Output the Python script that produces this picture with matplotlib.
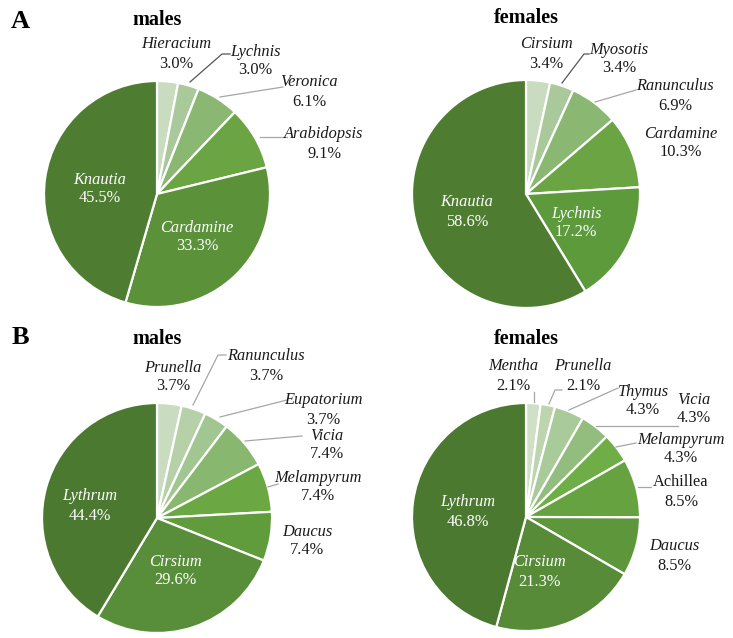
import matplotlib
matplotlib.use("Agg")
import matplotlib.pyplot as plt

# data: genus names and share of visits (%)
a_male_names = ["Hieracium", "Lychnis", "Veronica", "Arabidopsis", "Cardamine", "Knautia"]
a_male_vals = [3.0, 3.0, 6.1, 9.1, 33.3, 45.5]
a_female_names = ["Cirsium", "Myosotis", "Ranunculus", "Cardamine", "Lychnis", "Knautia"]
a_female_vals = [3.4, 3.4, 6.9, 10.3, 17.2, 58.6]
b_male_names = ["Prunella", "Ranunculus", "Eupatorium", "Vicia", "Melampyrum",
                "Daucus", "Cirsium", "Lythrum"]
b_male_vals = [3.7, 3.7, 3.7, 7.4, 7.4, 7.4, 29.6, 44.4]
b_female_names = ["Mentha", "Prunella", "Thymus", "Vicia", "Melampyrum",
                  "Achillea", "Daucus", "Cirsium", "Lythrum"]
b_female_vals = [2.1, 2.1, 4.3, 4.3, 4.3, 8.5, 8.5, 21.3, 46.8]

# styling / layout (pixel coords, y from top)
H = 638
SERIF = "Liberation Serif"
LINE = "#a6a6a6"
FS = 11.8

panels = [
    dict(names=a_male_names, vals=a_male_vals, center=(157, 194), r=113,
         colors=["#c9dcbf", "#a9c99b", "#8ab872", "#6ba443", "#5a9139", "#4e7d31"],
         title=("males", 157, 20),
         pos=[(176, 54), (255, 61), (309, 92), (324, 144), (197, 237), (100, 189)],
         lines=[None, [(190, 82), (222, 54), (230, 54)],
                [(220, 97), (283, 87)], [(260, 137), (287, 137)], None, None],
         line_cols=[None, "#555555", LINE, LINE, None, None],
         inside=[False, False, False, False, True, True]),
    dict(names=a_female_names, vals=a_female_vals, center=(526, 194), r=114,
         colors=["#c9dcbf", "#a9c99b", "#8ab872", "#6ba443", "#5c9a3b", "#4e7d31"],
         title=("females", 526, 18),
         pos=[(546, 54), (619, 59), (675, 96), (681, 143), (576, 223), (467, 212)],
         lines=[None, [(562, 83), (584, 54), (589, 54)],
                [(595, 102), (636, 90)], None, None, None],
         line_cols=[None, "#555555", LINE, None, None, None],
         inside=[False, False, False, False, True, True]),
    dict(names=b_male_names, vals=b_male_vals, center=(157, 518), r=115,
         colors=["#c9dcbf", "#b6d1a7", "#a2c691", "#88b86f", "#6ba843",
                 "#609c3c", "#588e39", "#4c7930"],
         title=("males", 157, 339),
         pos=[(173, 377), (266, 366), (323, 410), (327, 445), (318, 487),
              (307, 541), (175, 571), (90, 506)],
         lines=[None, [(193, 405), (218, 355), (226, 355)],
                [(220, 417), (287, 400)], [(245, 441), (302, 436)],
                [(268, 487), (278, 484)], None, None, None],
         line_cols=[LINE] * 8,
         inside=[False] * 6 + [True, True]),
    dict(names=b_female_names, vals=b_female_vals, center=(526, 517), r=114,
         colors=["#cfe0c6", "#bcd5af", "#a9ca99", "#92bd7f", "#6fae47",
                 "#66a340", "#5d963b", "#578b38", "#4c7930"],
         title=("females", 526, 339),
         pos=[(513, 376), (583, 376), (643, 401), (694, 409), (681, 449),
              (681, 492), (674, 556), (539, 572), (468, 512)],
         lines=[[(534, 402), (534, 392)], [(549, 404), (555, 390), (562, 390)],
                [(569, 410), (618, 388)], [(596, 426), (678, 426)],
                [(616, 447), (636, 443)], [(638, 487), (651, 487)],
                None, None, None],
         line_cols=[LINE] * 9,
         inside=[False] * 7 + [True, True]),
]

fig = plt.figure(figsize=(7.33, 6.38), dpi=100)
ax = fig.add_axes([0, 0, 1, 1])

for p in panels:
    cx, cy = p["center"]
    ax.pie(p["vals"], colors=p["colors"], startangle=90, counterclock=False,
           center=(cx, H - cy), radius=p["r"], frame=True,
           wedgeprops=dict(edgecolor="white", linewidth=1.6))
    for name, v, (x, y), ln, lc, inside in zip(p["names"], p["vals"], p["pos"],
                                                p["lines"], p["line_cols"],
                                                p["inside"]):
        col = "white" if inside else "#1a1a1a"
        style = "normal" if name == "Achillea" else "italic"
        ax.text(x, H - y + 9.5, name, ha="center", va="center", fontsize=FS,
                family=SERIF, style=style, color=col)
        ax.text(x, H - y - 9.5, f"{v:.1f}%", ha="center", va="center",
                fontsize=FS, family=SERIF, color=col)
        if ln is not None:
            ax.plot([q[0] for q in ln], [H - q[1] for q in ln], color=lc,
                    linewidth=0.9)
    t, tx, ty = p["title"]
    ax.text(tx, H - ty, t, ha="center", va="center", fontsize=14.5,
            family=SERIF, weight="bold")

ax.set_xlim(0, 733)
ax.set_ylim(0, H)
ax.set_aspect("equal")
ax.axis("off")

fig.text(20 / 733, 1 - 21 / H, "A", ha="center", va="center", fontsize=19,
         family=SERIF, weight="bold")
fig.text(20 / 733, 1 - 337 / H, "B", ha="center", va="center", fontsize=19,
         family=SERIF, weight="bold")

fig.savefig("out.png", dpi=100, facecolor="white")
